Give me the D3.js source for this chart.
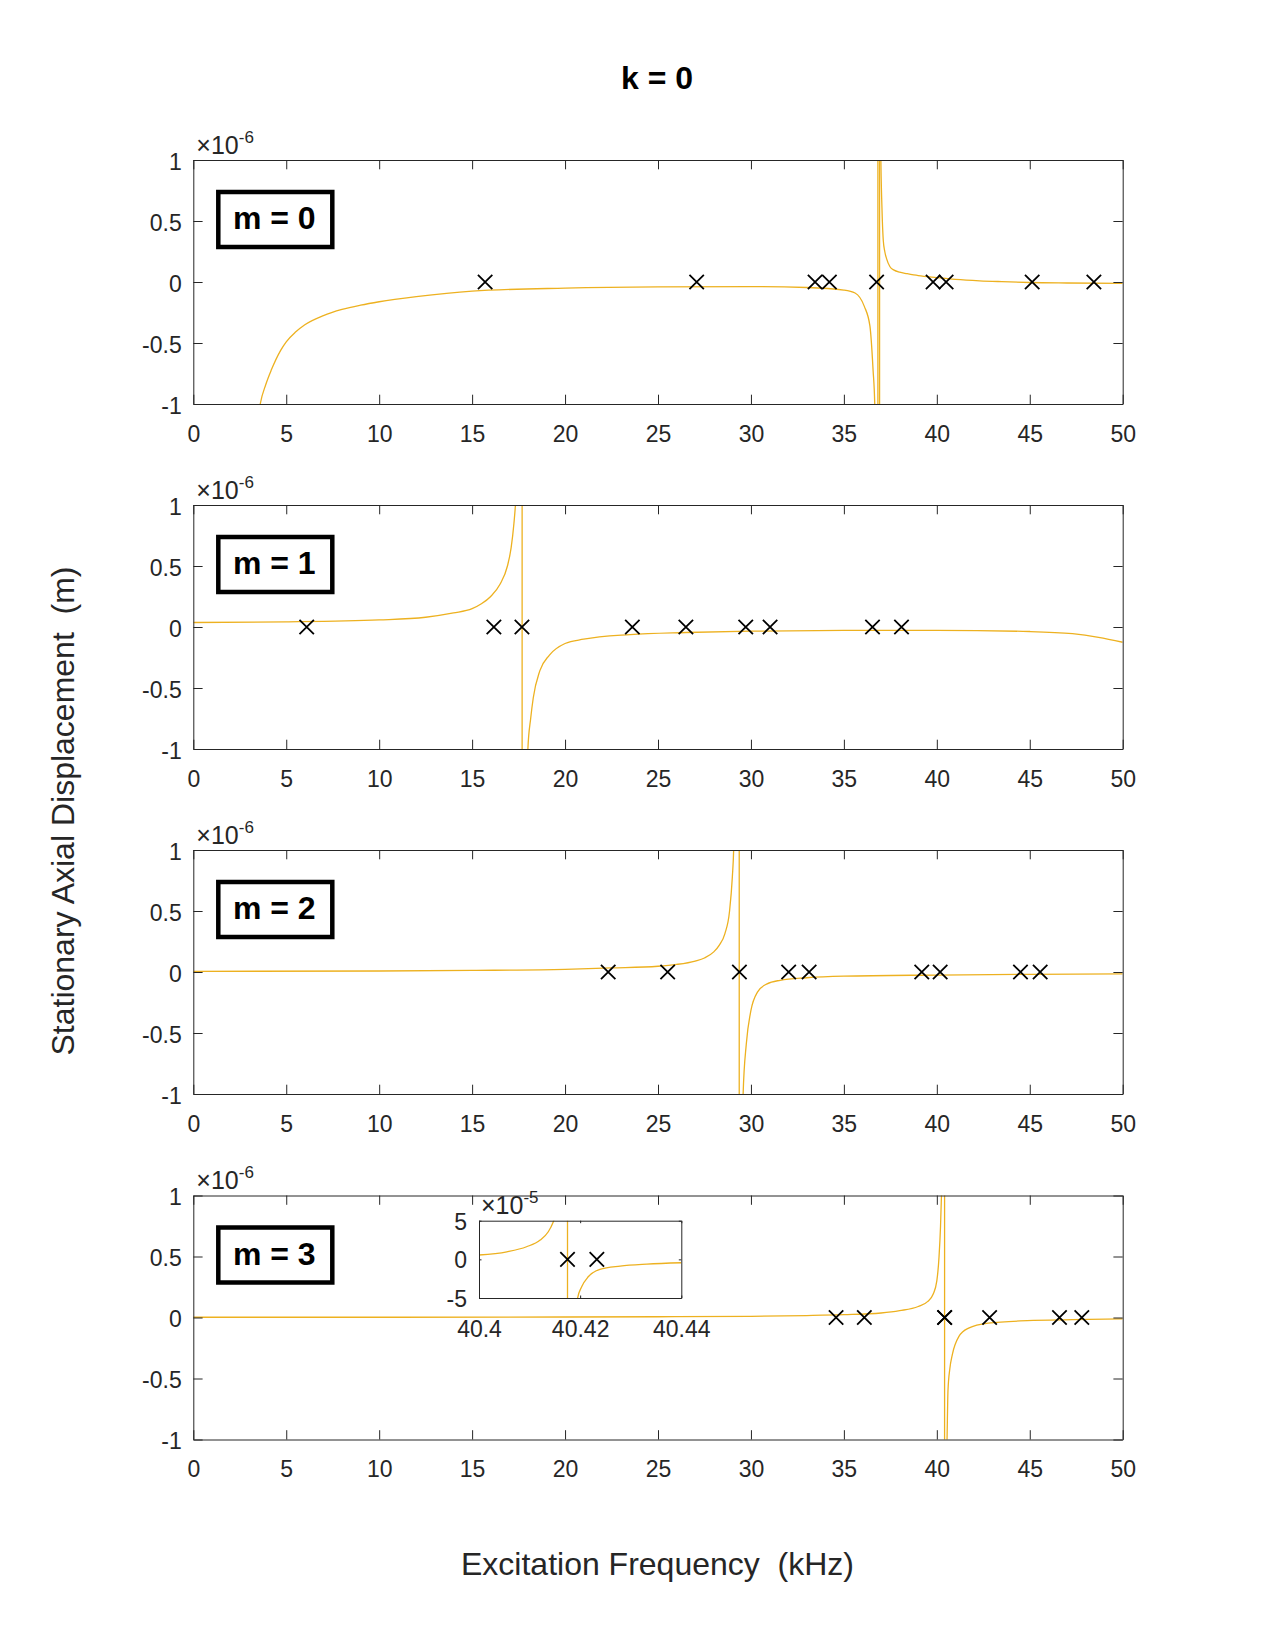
<!DOCTYPE html>
<html><head><meta charset="utf-8">
<script src="https://cdn.jsdelivr.net/npm/d3@7"></script>
<style>
body{margin:0;background:#fff;}
text{font-family:"Liberation Sans",Arial,Helvetica,sans-serif;}
</style>
</head><body><div id="chart"></div>
<script>
// ---------- data (frequency in kHz, displacement in units of 1e-6 m) ----------
const titleText = "k = 0";
const xLabelText = "Excitation Frequency  (kHz)";
const yLabelText = "Stationary Axial Displacement  (m)";
const panelLabels = ["m = 0", "m = 1", "m = 2", "m = 3"];
const xTicks = [0, 5, 10, 15, 20, 25, 30, 35, 40, 45, 50];
const xTickLabels = ["0", "5", "10", "15", "20", "25", "30", "35", "40", "45", "50"];
const yTicks = [-1, -0.5, 0, 0.5, 1];
const yTickLabels = ["-1", "-0.5", "0", "0.5", "1"];

// each curve = list of branches (values beyond +-1 are clipped)
const curveM0 = [
  [[3.45,-1.15],[3.6,-1.0],[3.9,-0.84],[4.2,-0.72],[4.7,-0.56],[5,-0.49],[5.5,-0.41],[6,-0.35],[7,-0.275],[8,-0.225],[9,-0.19],[10,-0.162],[12,-0.12],[15,-0.075],[20,-0.05],[25,-0.04],[30,-0.038],[33,-0.045],[35,-0.066],[35.6,-0.09],[36.1,-0.2],[36.4,-0.36],[36.57,-0.72],[36.66,-1.0],[36.7,-1.3]],
  [[36.83,-1.5],[36.83,1.5]],
  [[36.92,1.5],[36.92,-1.5]],
  [[36.97,1.3],[36.99,1.0],[37.03,0.7],[37.07,0.5],[37.12,0.34],[37.2,0.25],[37.3,0.19],[37.48,0.125],[37.7,0.097],[38,0.08],[38.4,0.068],[39,0.052],[40,0.036],[41,0.022],[42.3,0.01],[43.5,0.003],[45,-0.004],[47,-0.008],[50,-0.011]]
];
const curveM1 = [
  [[0,0.037],[5,0.042],[10,0.058],[12.5,0.08],[14,0.115],[15,0.15],[15.5,0.19],[16,0.25],[16.5,0.35],[16.9,0.5],[17.1,0.65],[17.25,0.85],[17.33,1.0],[17.4,1.2]],
  [[17.69,1.5],[17.69,-1.5]],
  [[17.95,-1.3],[18.0,-1.0],[18.15,-0.75],[18.29,-0.58],[18.64,-0.36],[19.16,-0.23],[20,-0.135],[21,-0.1],[23.5,-0.062],[26.5,-0.045],[30,-0.034],[35,-0.027],[40,-0.027],[45,-0.037],[47.3,-0.055],[48.7,-0.085],[50,-0.125]]
];
const curveM2 = [
  [[0,0.005],[10,0.008],[15,0.013],[20,0.022],[22.5,0.033],[25,0.047],[26,0.062],[27,0.09],[27.5,0.115],[28,0.165],[28.3,0.22],[28.6,0.315],[28.85,0.5],[29.0,0.78],[29.07,1.0],[29.1,1.2]],
  [[29.37,1.5],[29.37,-1.5]],
  [[29.55,-1.2],[29.58,-1.0],[29.75,-0.59],[30.0,-0.315],[30.35,-0.165],[30.87,-0.097],[31.57,-0.068],[33,-0.047],[35,-0.034],[40,-0.025],[45,-0.019],[50,-0.016]]
];
const curveM3 = [
  [[0,0.002],[10,0.002],[20,0.004],[25,0.006],[30,0.01],[33,0.016],[35,0.023],[37,0.037],[38,0.056],[39,0.09],[39.5,0.13],[39.8,0.19],[40.0,0.3],[40.12,0.5],[40.2,0.75],[40.25,1.0],[40.28,1.2]],
  [[40.4175,1.5],[40.4175,-1.5]],
  [[40.52,-1.2],[40.55,-1.0],[40.6,-0.6],[40.7,-0.42],[40.84,-0.3],[41.19,-0.155],[41.71,-0.087],[42.76,-0.046],[44.86,-0.026],[47.3,-0.018],[50,-0.012]]
];
const markersM0 = [15.7, 27.08, 33.45, 34.22, 36.76, 39.8, 40.5, 45.13, 48.45];
const markersM1 = [6.1, 16.17, 17.68, 23.62, 26.5, 29.72, 31.03, 36.54, 38.1];
const markersM2 = [22.32, 25.52, 29.38, 32.03, 33.13, 39.19, 40.18, 44.5, 45.56];
const markersM3 = [34.58, 36.1, 40.4175, 40.4233, 42.84, 46.6, 47.8];

// inset of the m = 3 panel (displacement in units of 1e-5 m)
const insetXTicks = [40.4, 40.42, 40.44];
const insetXTickLabels = ["40.4", "40.42", "40.44"];
const insetYTicks = [-5, 0, 5];
const insetYTickLabels = ["-5", "0", "5"];
const insetCurve = [
  [[40.4,0.56],[40.4055,0.98],[40.4094,1.63],[40.4121,2.5],[40.4137,3.57],[40.4147,4.87],[40.4151,5.6]],
  [[40.4175,6],[40.4175,-6]],
  [[40.4193,-5.8],[40.4195,-5],[40.4203,-3.54],[40.4216,-2.25],[40.4239,-1.3],[40.4279,-0.87],[40.4332,-0.61],[40.44,-0.44]]
];
const insetMarkers = [40.4175, 40.4233];

// ---------- drawing ----------
const W = 1275, H = 1650;
const AX = "#262626", LINE = "#EDB120";
const FONT = '"Liberation Sans",Arial,Helvetica,sans-serif';
const svg = d3.select("#chart").append("svg").attr("width", W).attr("height", H)
  .style("background", "#fff");

const plotL = 193.3, plotR = 1122.7, panelH = 244;
const panelTops = [160, 505, 850, 1195.5];
const curves = [curveM0, curveM1, curveM2, curveM3];
const markers = [markersM0, markersM1, markersM2, markersM3];

function drawAxes(g, x, y, opts) {
  const tl = opts.tickLen;
  const [x0, x1] = x.range(), [y0, y1] = y.range(); // y0 bottom, y1 top
  const bx = d3.axisBottom(x).tickValues(opts.xTicks).tickSizeInner(-tl).tickSizeOuter(0)
    .tickPadding(opts.xPad).tickFormat((d, i) => opts.xLabels[i]);
  const gb = g.append("g").attr("transform", `translate(0,${y0})`).call(bx);
  const tx = d3.axisTop(x).tickValues(opts.xTicks).tickSizeInner(-tl).tickSizeOuter(0).tickFormat("");
  const gt = g.append("g").attr("transform", `translate(0,${y1})`).call(tx);
  const ly = d3.axisLeft(y).tickValues(opts.yTicks).tickSizeInner(-tl).tickSizeOuter(0)
    .tickPadding(opts.yPad).tickFormat((d, i) => opts.yLabels[i]);
  const gl = g.append("g").attr("transform", `translate(${x0},0)`).call(ly);
  const ry = d3.axisRight(y).tickValues(opts.yTicks).tickSizeInner(-tl).tickSizeOuter(0).tickFormat("");
  const gr = g.append("g").attr("transform", `translate(${x1},0)`).call(ry);
  [gb, gt, gl, gr].forEach(a => {
    a.select(".domain").attr("stroke", AX).attr("stroke-width", 1);
    a.selectAll(".tick line").attr("stroke", AX).attr("stroke-width", 1);
    a.selectAll("text").attr("fill", AX).style("font-size", "23px").style("font-family", FONT);
  });
  gb.selectAll("text").attr("dy", null).attr("y", opts.xBase);
  gl.selectAll("text").attr("dy", opts.yDy);
}

function drawCurve(g, x, y, segs, clipId) {
  const cg = g.append("g").attr("clip-path", `url(#${clipId})`);
  segs.forEach(seg => {
    const line = d3.line().x(d => x(d[0])).y(d => y(d[1]))
      .curve(seg.length > 2 ? d3.curveMonotoneX : d3.curveLinear);
    cg.append("path").attr("d", line(seg)).attr("fill", "none")
      .attr("stroke", LINE).attr("stroke-width", 1.3);
  });
}

function drawMarkers(g, x, y, xs) {
  const s = 7.2;
  xs.forEach(f => {
    const cx = x(f), cy = y(0);
    g.append("path").attr("d", `M${cx - s},${cy - s}L${cx + s},${cy + s}M${cx - s},${cy + s}L${cx + s},${cy - s}`)
      .attr("stroke", "#000").attr("stroke-width", 1.8).attr("fill", "none");
  });
}

function drawExponent(g, xPos, yPos, exp) {
  const t = g.append("text").attr("x", xPos).attr("y", yPos).attr("fill", AX).style("font-size", "25px");
  t.append("tspan").text("\u00d710");
  t.append("tspan").attr("dy", -11).style("font-size", "17px").text(exp);
}

panelTops.forEach((top, i) => {
  const g = svg.append("g");
  const x = d3.scaleLinear().domain([0, 50]).range([plotL, plotR]);
  const y = d3.scaleLinear().domain([-1, 1]).range([top + panelH, top]);
  const clipId = "clip" + i;
  svg.append("clipPath").attr("id", clipId).append("rect")
    .attr("x", plotL).attr("y", top).attr("width", plotR - plotL).attr("height", panelH);
  g.append("rect").attr("x", plotL).attr("y", top).attr("width", plotR - plotL).attr("height", panelH).attr("fill", "#fff");
  drawCurve(g, x, y, curves[i], clipId);
  drawMarkers(g, x, y, markers[i]);
  drawAxes(g, x, y, {tickLen: 9.3, xTicks, xLabels: xTickLabels, yTicks, yLabels: yTickLabels,
    xPad: 21, xBase: 37.7, yPad: 11.6, yDy: "9px"});
  drawExponent(g, plotL + 3, top - 6.5, "-6");
  g.append("rect").attr("x", plotL + 25).attr("y", top + 32).attr("width", 114).attr("height", 55)
    .attr("fill", "#fff").attr("stroke", "#000").attr("stroke-width", 4.5);
  g.append("text").attr("x", plotL + 81).attr("y", top + 69).attr("text-anchor", "middle")
    .style("font-size", "32px").style("font-weight", "bold").attr("fill", "#000").text(panelLabels[i]);

  if (i === 3) {
    const ig = svg.append("g");
    const ix = d3.scaleLinear().domain([40.4, 40.44]).range([479, 681.3]);
    const iy = d3.scaleLinear().domain([-5, 5]).range([1298, 1220.7]);
    svg.append("clipPath").attr("id", "clipInset").append("rect")
      .attr("x", 479).attr("y", 1220.7).attr("width", 681.3 - 479).attr("height", 1298 - 1220.7);
    ig.append("rect").attr("x", 479).attr("y", 1220.7).attr("width", 681.3 - 479).attr("height", 1298 - 1220.7).attr("fill", "#fff");
    drawCurve(ig, ix, iy, insetCurve, "clipInset");
    drawMarkers(ig, ix, iy, insetMarkers);
    drawAxes(ig, ix, iy, {tickLen: 2.5, xTicks: insetXTicks, xLabels: insetXTickLabels, yTicks: insetYTicks,
      yLabels: insetYTickLabels, xPad: 21, xBase: 38.5, yPad: 12, yDy: "8.5px"});
    drawExponent(ig, 481, 1213.5, "-5");
  }
});

// title and axis labels
svg.append("text").attr("x", 657).attr("y", 89).attr("text-anchor", "middle")
  .style("font-size", "32px").style("font-weight", "bold").attr("fill", "#000").text(titleText);
svg.append("text").attr("x", 657.5).attr("y", 1575).attr("text-anchor", "middle")
  .attr("xml:space", "preserve").style("white-space", "pre")
  .style("font-size", "32px").attr("fill", AX).text(xLabelText);
svg.append("text").attr("transform", "translate(74,811) rotate(-90)").attr("text-anchor", "middle")
  .attr("xml:space", "preserve").style("white-space", "pre")
  .style("font-size", "32px").attr("fill", AX).text(yLabelText);
</script>
</body></html>
